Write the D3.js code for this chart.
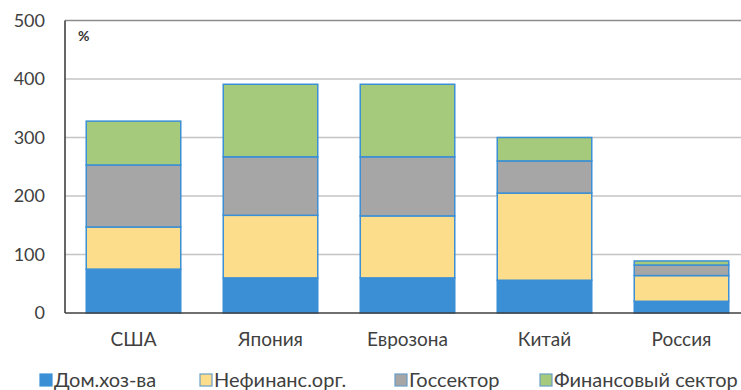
<!DOCTYPE html>
<html><head><meta charset="utf-8">
<script src="https://cdn.jsdelivr.net/npm/d3@7"></script>
<style>body{margin:0;background:#fff}svg{display:block;font-family:Lato,"Open Sans",sans-serif}</style>
</head><body><svg id="c" width="741" height="390"></svg>
<script>
const categories = ["США","Япония","Еврозона","Китай","Россия"];
const seriesNames = ["Дом.хоз-ва","Нефинанс.орг.","Госсектор","Финансовый сектор"];
const households = [75, 60, 60, 56, 20];
const nonfinancial = [72, 107, 106, 149, 44];
const government = [106, 100, 101, 55, 18];
const financial = [75, 124, 124, 40, 7];
const yTicks = [0,100,200,300,400,500];
const colors = ["#3b8fd5","#fbdd8b","#a6a6a6","#a5ca7c"];

(function(){
const seriesVals = [households, nonfinancial, government, financial];
const data = categories.map((c,i)=>{const o={cat:c};seriesNames.forEach((s,j)=>o[s]=seriesVals[j][i]);return o;});
const stack = d3.stack().keys(seriesNames)(data);

const svg = d3.select("#c");
const pL=65, pR=750, pT=20.5, pB=313;
const x = d3.scaleBand().domain(categories).range([pL,pR]).paddingInner(0.31).paddingOuter(0.155);
const y = d3.scaleLinear().domain([0,500]).range([pB,pT]);

svg.append("g").selectAll("line").data(yTicks.filter(t=>t>0)).join("line")
  .attr("x1",pL).attr("x2",741).attr("y1",d=>y(d)).attr("y2",d=>y(d))
  .attr("stroke",d=>d===500?"#8c8c8c":"#c4c4c4").attr("stroke-width",1.3);

svg.append("g").selectAll("g").data(stack).join("g").attr("fill",(d,i)=>colors[i])
  .selectAll("rect").data(d=>d).join("rect")
  .attr("x",d=>x(d.data.cat)).attr("width",x.bandwidth())
  .attr("y",d=>y(d[1])).attr("height",d=>y(d[0])-y(d[1]))
  .attr("stroke","#3b8fd5").attr("stroke-width",1.5);

svg.append("line").attr("x1",pL).attr("x2",pL).attr("y1",pT).attr("y2",pB).attr("stroke","#404040").attr("stroke-width",1.6);
svg.append("line").attr("x1",pL).attr("x2",741).attr("y1",pB).attr("y2",pB).attr("stroke","#404040").attr("stroke-width",1.6);

const yAxis = d3.axisLeft(y).tickValues(yTicks).tickSize(0).tickPadding(20);
const ga = svg.append("g").attr("transform",`translate(${pL},0)`).call(yAxis);
ga.select(".domain").remove();
ga.selectAll("text").attr("font-size",18).attr("fill","#404040").attr("font-family","Lato,'Open Sans',sans-serif");

const xAxis = d3.axisBottom(x).tickSize(0).tickPadding(20);
const gx = svg.append("g").attr("transform",`translate(0,${pB})`).call(xAxis);
gx.select(".domain").remove();
gx.selectAll("text").attr("font-size",19).attr("fill","#404040").attr("font-family","Lato,'Open Sans',sans-serif");

svg.append("text").attr("x",78).attr("y",41).attr("font-size",14).attr("font-weight","bold").attr("fill","#333").text("%");

const legX = [40,200,395,540];
const lg = svg.append("g").selectAll("g").data(seriesNames).join("g")
  .attr("transform",(d,i)=>`translate(${legX[i]},380)`);
lg.append("rect").attr("x",0).attr("y",-6).attr("width",12).attr("height",12)
  .attr("fill",(d,i)=>colors[i]).attr("stroke",(d,i)=>i===0?colors[0]:"#6a9fc8").attr("stroke-width",1.2);
lg.append("text").attr("x",14).attr("y",7).attr("font-size",20).attr("fill","#404040").text(d=>d);
})();
</script></body></html>
